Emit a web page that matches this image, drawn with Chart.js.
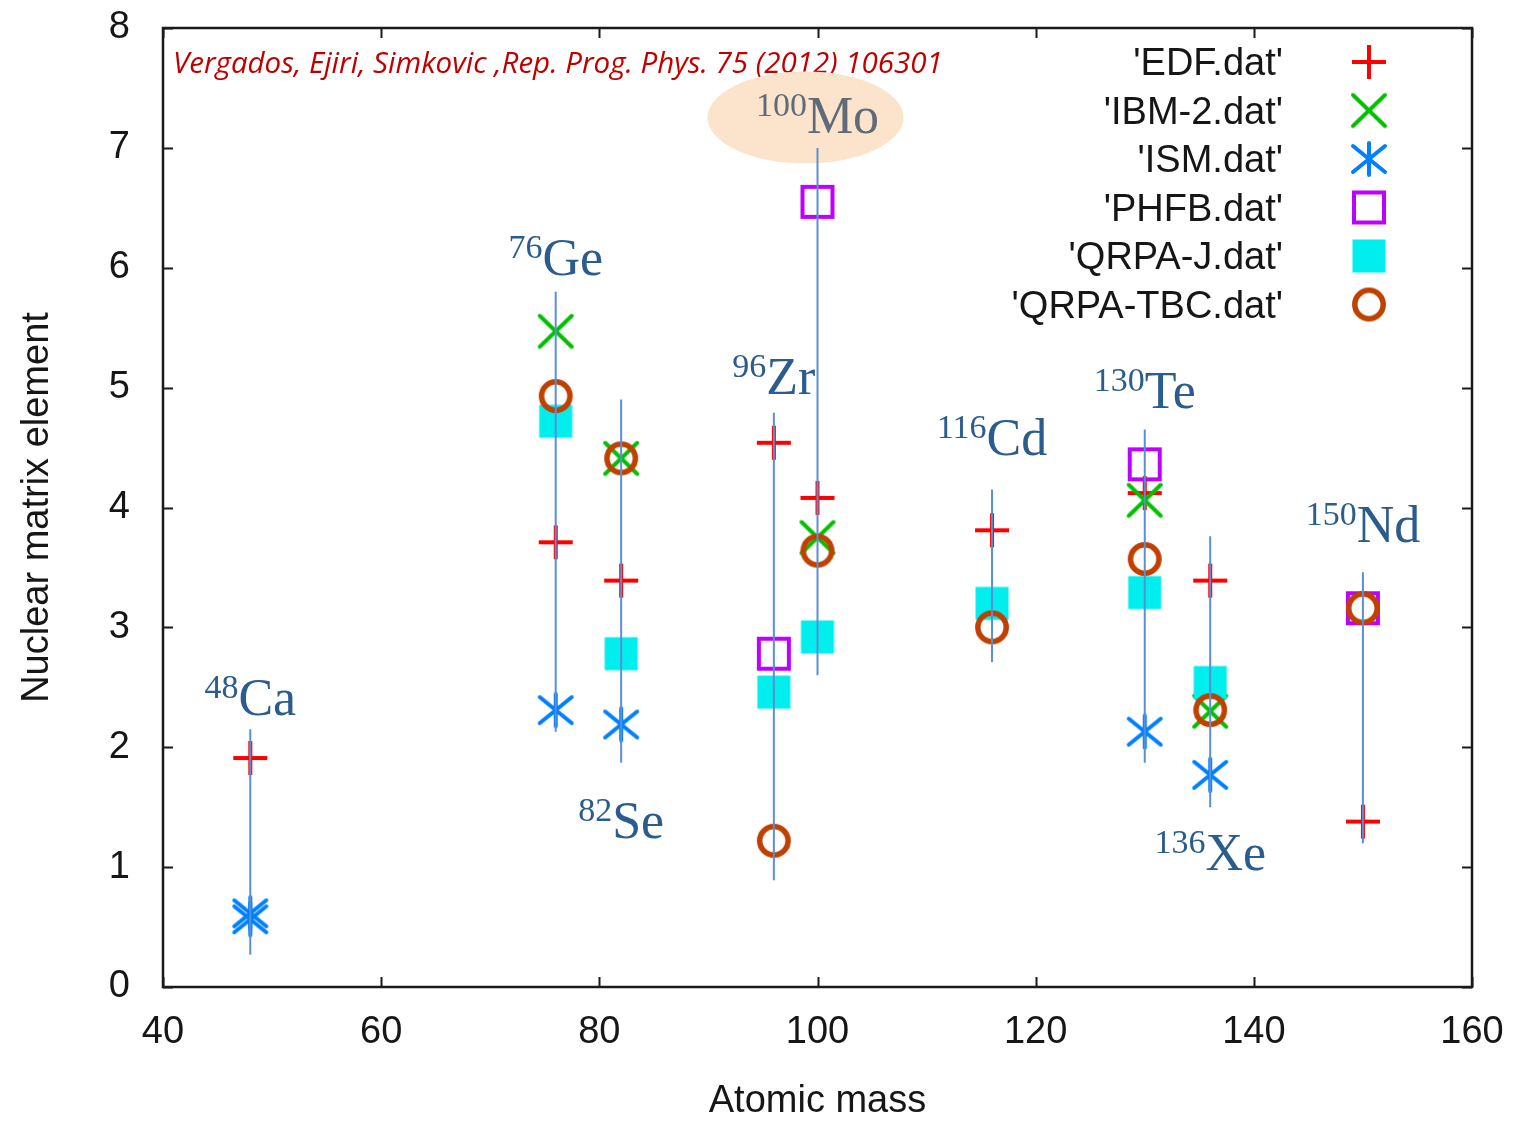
<!DOCTYPE html>
<html>
<head>
<meta charset="utf-8">
<script src="https://cdn.jsdelivr.net/npm/chart.js@4/dist/chart.umd.min.js"></script>
<style>
  html, body { margin: 0; padding: 0; background: #ffffff; }
  canvas { display: block; }
</style>
</head>
<body>
<canvas id="nme" width="1515" height="1121"></canvas>
<script>
// Double-beta-decay nuclei and their mass numbers
const nuclei = ['Ca', 'Ge', 'Se', 'Zr', 'Mo', 'Cd', 'Te', 'Xe', 'Nd'];
const masses = [48, 76, 82, 96, 100, 116, 130, 136, 150];

// spread of the calculated matrix elements for each nucleus
const rangeLow  = [0.27, 2.13, 1.87, 0.89, 2.60, 2.71, 1.87, 1.50, 1.20];
const rangeHigh = [2.15, 5.80, 4.90, 4.79, 7.00, 4.15, 4.65, 3.76, 3.46];

// height (matrix element units) of the isotope tag baseline
const tagY = [2.27, 5.94, 1.24, 4.95, 7.12, 4.44, 4.83, 0.98, 3.71];

// model results: [mass number, nuclear matrix element]
const edf     = [[48, 1.91], [76, 3.71], [82, 3.39], [96, 4.54], [100, 4.08], [116, 3.81], [130, 4.12], [136, 3.39], [150, 1.38]];
const ibm2    = [[76, 5.47], [82, 4.41], [100, 3.75], [130, 4.06], [136, 2.30]];
const ism     = [[48, 0.565], [48, 0.615], [76, 2.31], [82, 2.19], [130, 2.13], [136, 1.77]];
const phfb    = [[96, 2.78], [100, 6.55], [130, 4.36], [150, 3.16]];
const qrpaJ   = [[76, 4.72], [82, 2.78], [96, 2.46], [100, 2.92], [116, 3.20], [130, 3.29], [136, 2.54]];
const qrpaTBC = [[76, 4.93], [82, 4.41], [96, 1.22], [100, 3.64], [116, 3.00], [130, 3.57], [136, 2.31], [150, 3.16]];

const seriesNames = ["'EDF.dat'", "'IBM-2.dat'", "'ISM.dat'", "'PHFB.dat'", "'QRPA-J.dat'", "'QRPA-TBC.dat'"];
const xTicks = [40, 60, 80, 100, 120, 140, 160];
const yTicks = [0, 1, 2, 3, 4, 5, 6, 7, 8];

const citation = 'Vergados, Ejiri, Simkovic ,Rep. Prog. Phys. 75 (2012) 106301';

// gnuplot-like point symbols drawn once on small canvases
function makeMarker(kind, color) {
  const s = 40, h = s / 2;
  const c = document.createElement('canvas');
  c.width = s; c.height = s;
  const g = c.getContext('2d');
  g.strokeStyle = color; g.fillStyle = color;
  g.lineWidth = 4;
  g.beginPath();
  if (kind === 'plus') {
    g.moveTo(h - 17, h); g.lineTo(h + 17, h);
    g.moveTo(h, h - 17); g.lineTo(h, h + 17);
    g.stroke();
  } else if (kind === 'cross') {
    g.lineCap = 'round';
    g.moveTo(h - 16, h - 15.5); g.lineTo(h + 16, h + 15.5);
    g.moveTo(h + 16, h - 15.5); g.lineTo(h - 16, h + 15.5);
    g.stroke();
  } else if (kind === 'aster') {
    g.lineCap = 'round';
    g.moveTo(h, h - 16); g.lineTo(h, h + 16);
    g.moveTo(h - 16, h - 13); g.lineTo(h + 16, h + 13);
    g.moveTo(h + 16, h - 13); g.lineTo(h - 16, h + 13);
    g.stroke();
  } else if (kind === 'box') {
    g.strokeRect(h - 15, h - 15, 30, 30);
  } else if (kind === 'fbox') {
    g.fillRect(h - 16.5, h - 16.5, 33, 33);
  } else if (kind === 'ring') {
    g.lineWidth = 5.5;
    g.arc(h, h, 14.2, 0, Math.PI * 2);
    g.stroke();
  }
  return c;
}

const markers = [
  makeMarker('plus',  '#ff0000'),
  makeMarker('cross', '#00c000'),
  makeMarker('aster', '#0080ff'),
  makeMarker('box',   '#c000ff'),
  makeMarker('fbox',  '#00eeee'),
  makeMarker('ring',  '#c04000')
];
const seriesData = [edf, ibm2, ism, phfb, qrpaJ, qrpaTBC];

const datasets = [];
// later series are painted over earlier ones; the spread lines sit on top
seriesData.forEach((arr, i) => {
  datasets.push({
    label: seriesNames[i],
    data: arr.map(p => ({ x: p[0], y: p[1] })),
    pointStyle: markers[i],
    pointRadius: 12,
    showLine: false,
    order: seriesData.length - i
  });
});
masses.forEach((m, i) => {
  datasets.push({
    label: 'range ' + nuclei[i],
    data: [{ x: m, y: rangeLow[i] }, { x: m, y: rangeHigh[i] }],
    showLine: true,
    borderColor: '#5b8fd4',
    borderWidth: 2,
    pointRadius: 0,
    order: 0
  });
});

const TEXT = '#161616';
const SANS = '"Liberation Sans", Arial, sans-serif';

// frame with inward ticks on all four sides
const framePlugin = {
  id: 'frame',
  beforeDatasetsDraw(chart) {
    const { ctx, chartArea: a, scales } = chart;
    ctx.save();
    ctx.strokeStyle = '#1a1a1a';
    ctx.lineWidth = 2;
    const tl = 10;
    ctx.beginPath();
    xTicks.forEach(v => {
      const px = Math.round(scales.x.getPixelForValue(v)) + 0.5;
      ctx.moveTo(px, a.bottom); ctx.lineTo(px, a.bottom - tl);
      ctx.moveTo(px, a.top); ctx.lineTo(px, a.top + tl);
    });
    yTicks.forEach(v => {
      const py = Math.round(scales.y.getPixelForValue(v)) + 0.5;
      ctx.moveTo(a.left, py); ctx.lineTo(a.left + tl, py);
      ctx.moveTo(a.right, py); ctx.lineTo(a.right - tl, py);
    });
    ctx.stroke();
    ctx.lineWidth = 2.5;
    ctx.strokeRect(a.left, a.top, a.right - a.left, a.bottom - a.top);
    ctx.restore();
  }
};

// isotope tags, the highlight behind 100Mo and the reference line
const tagPlugin = {
  id: 'tags',
  beforeDatasetsDraw(chart) {
    const { ctx, chartArea: a, scales } = chart;
    ctx.save();
    // reference
    ctx.fillStyle = '#c00000';
    ctx.font = 'italic 29.5px "Open Sans", sans-serif';
    ctx.textAlign = 'left';
    ctx.textBaseline = 'alphabetic';
    ctx.fillText(citation, a.left + 10, a.top + 45);

    const bigFont = '52px "Liberation Serif", "Times New Roman", serif';
    const supFont = '34px "Liberation Serif", "Times New Roman", serif';
    nuclei.forEach((el, i) => {
      const cx = scales.x.getPixelForValue(masses[i]);
      const by = scales.y.getPixelForValue(tagY[i]);
      const sup = String(masses[i]);
      ctx.font = supFont;
      const ws = ctx.measureText(sup).width;
      ctx.font = bigFont;
      const we = ctx.measureText(el).width;
      const x0 = cx - (ws + we) / 2;
      if (el === 'Mo') {
        ctx.fillStyle = '#fce3cb';
        ctx.beginPath();
        ctx.ellipse(cx - 12, by - 16, 98, 46, 0, 0, Math.PI * 2);
        ctx.fill();
      }
      ctx.fillStyle = el === 'Mo' ? '#5f6b78' : '#2b5c8e';
      ctx.textAlign = 'left';
      ctx.font = supFont;
      ctx.fillText(sup, x0, by - 17);
      ctx.font = bigFont;
      ctx.fillText(el, x0 + ws, by);
    });
    ctx.restore();
  }
};

// key: names right-aligned, symbol to the right
const keyPlugin = {
  id: 'key',
  afterDraw(chart) {
    const { ctx, chartArea: a } = chart;
    ctx.save();
    ctx.font = '38px ' + SANS;
    ctx.fillStyle = TEXT;
    ctx.textAlign = 'right';
    ctx.textBaseline = 'alphabetic';
    seriesNames.forEach((name, i) => {
      const y = a.top + 34 + i * 48.5;
      ctx.fillText(name, a.right - 189, y + 13);
      const m = markers[i];
      ctx.drawImage(m, a.right - 103 - m.width / 2, y - m.height / 2);
    });
    ctx.restore();
  }
};

new Chart(document.getElementById('nme'), {
  type: 'scatter',
  data: { datasets },
  plugins: [framePlugin, tagPlugin, keyPlugin],
  options: {
    responsive: false,
    animation: false,
    events: [],
    layout: { padding: { left: 0, right: 43, top: 28, bottom: 0 } },
    plugins: {
      legend: { display: false },
      tooltip: { enabled: false }
    },
    scales: {
      x: {
        type: 'linear',
        min: 40, max: 160,
        afterBuildTicks: s => { s.ticks = xTicks.map(v => ({ value: v })); },
        afterFit: s => { s.height = 134; s.paddingLeft = 0; s.paddingRight = 0; },
        grid: { display: false, drawTicks: false },
        border: { display: false },
        ticks: { color: TEXT, font: { family: SANS, size: 38 }, padding: 23, maxRotation: 0 },
        title: { display: true, text: 'Atomic mass', color: TEXT,
                 font: { family: SANS, size: 38, lineHeight: 1 }, padding: { top: 0, bottom: 0 } }
      },
      y: {
        type: 'linear',
        min: 0, max: 8,
        afterBuildTicks: s => { s.ticks = yTicks.map(v => ({ value: v })); },
        afterFit: s => { s.width = 163; s.paddingTop = 0; s.paddingBottom = 0; },
        grid: { display: false, drawTicks: false },
        border: { display: false },
        ticks: { color: TEXT, font: { family: SANS, size: 38 }, padding: 33 },
        title: { display: true, text: 'Nuclear matrix element', color: TEXT,
                 font: { family: SANS, size: 38, lineHeight: 1 }, padding: { top: 19, bottom: 0 } }
      }
    }
  }
});
</script>
</body>
</html>
